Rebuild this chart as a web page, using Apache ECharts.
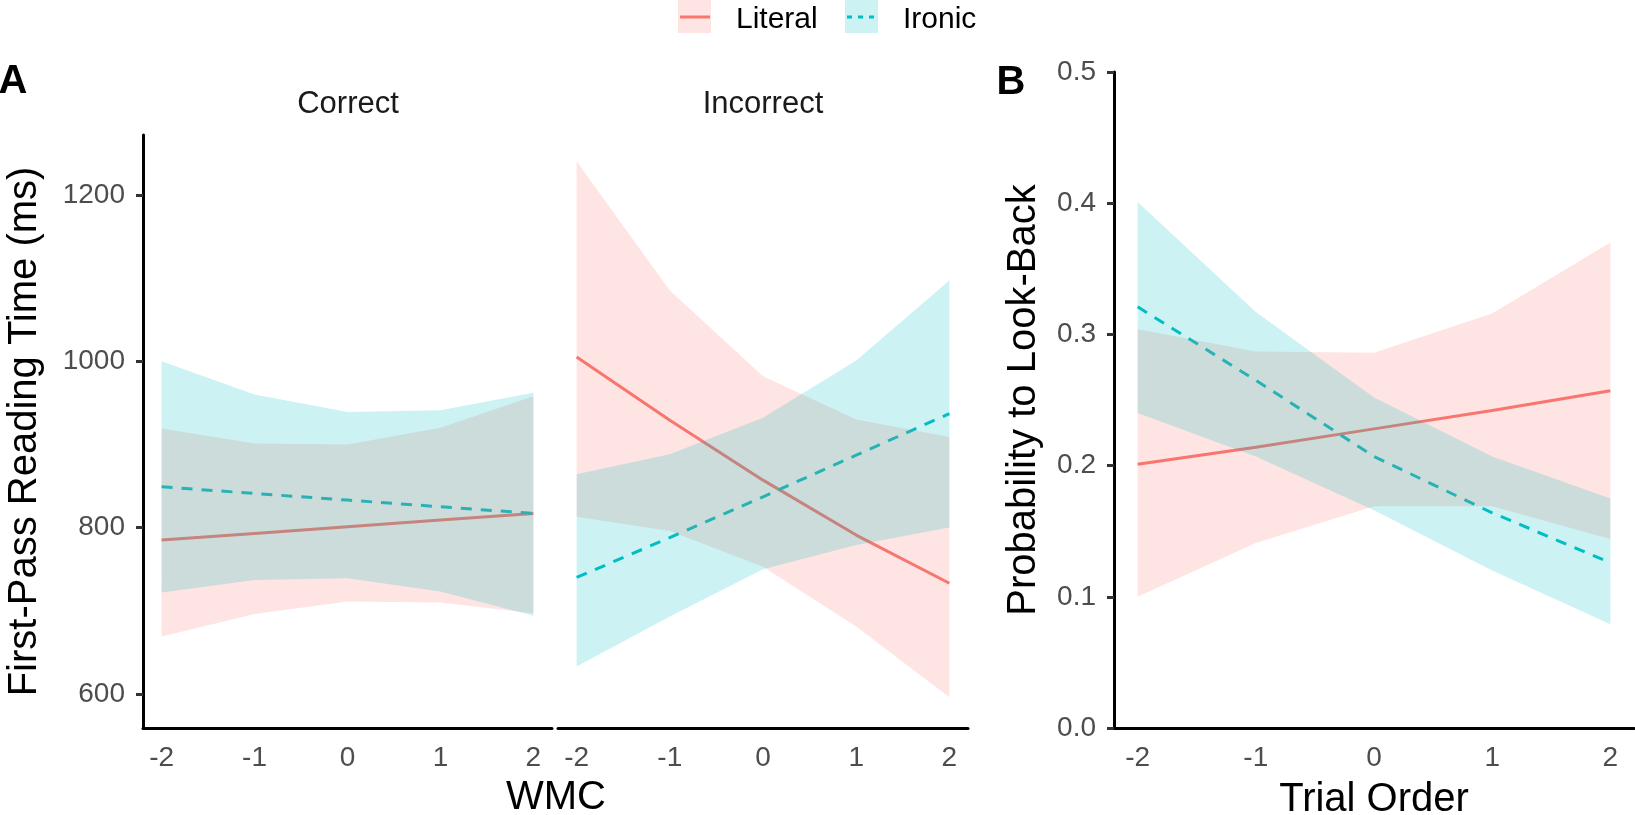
<!DOCTYPE html>
<html>
<head>
<meta charset="utf-8">
<script src="https://cdn.jsdelivr.net/npm/echarts@6/dist/echarts.min.js"></script>
<style>
  html, body { margin: 0; padding: 0; background: #fff; }
  #chart { width: 1635px; height: 815px; }
</style>
</head>
<body>
<div id="chart"></div>
<script>
// x positions (centred predictors)
var xs = [-2, -1, 0, 1, 2];
var xTicks = [-2, -1, 0, 1, 2];
var rtTicks = [600, 800, 1000, 1200];

// Panel A, Correct
var corLitFit = [785, 793, 801, 809, 817];
var corLitLo  = [669, 696, 711, 710, 697];
var corLitHi  = [919, 901, 900, 920, 958];
var corIroFit = [849, 841, 833, 825, 817];
var corIroLo  = [722, 737, 739, 723, 694];
var corIroHi  = [1000, 960, 939, 941, 962];

// Panel A, Incorrect
var incLitFit = [1005, 929, 857, 791, 733];
var incLitLo  = [813, 796, 753, 681, 596];
var incLitHi  = [1240, 1085, 982, 930, 909];
var incIroFit = [740, 788, 837, 887, 937];
var incIroLo  = [633, 693, 750, 779, 800];
var incIroHi  = [864, 888, 932, 1001, 1097];

// Panel B, look-back probability by trial order
var triLitFit = [0.201, 0.214, 0.228, 0.242, 0.257];
var triLitLo  = [0.100, 0.141, 0.169, 0.169, 0.144];
var triLitHi  = [0.304, 0.287, 0.286, 0.316, 0.370];
var triIroFit = [0.321, 0.265, 0.207, 0.164, 0.126];
var triIroLo  = [0.240, 0.207, 0.166, 0.120, 0.079];
var triIroHi  = [0.401, 0.317, 0.252, 0.207, 0.175];

var RED = '#F8766D', CYAN = '#00BFC4';
var FONT = 'Liberation Sans, Arial, sans-serif';
var DASH = [11, 9];

function pairs(vals) {
  return xs.map(function (x, i) { return [x, vals[i]]; });
}

function fitLine(name, idx, vals, color, dashed) {
  return {
    name: name, type: 'line', xAxisIndex: idx, yAxisIndex: idx,
    data: pairs(vals), color: color, symbol: 'none', showSymbol: false,
    lineStyle: { color: color, width: 3, type: dashed ? DASH : 'solid' },
    silent: true, z: 2
  };
}

// confidence ribbon: one polygon, upper edge then lower edge back
function band(name, idx, lo, hi, color, z) {
  return {
    name: name + ' ci', type: 'custom', xAxisIndex: idx, yAxisIndex: idx,
    data: xs.map(function (x, i) { return [x, lo[i], hi[i]]; }),
    encode: { x: 0, y: [1, 2] },
    silent: true, z: z,
    renderItem: function (params, api) {
      if (params.dataIndex !== 0) return null;
      var pts = [];
      for (var i = 0; i < xs.length; i++) pts.push(api.coord([xs[i], hi[i]]));
      for (var j = xs.length - 1; j >= 0; j--) pts.push(api.coord([xs[j], lo[j]]));
      return { type: 'polygon', shape: { points: pts }, style: { fill: color } };
    }
  };
}

function xAxisFor(idx, name) {
  return {
    type: 'value', gridIndex: idx, min: -2.2, max: 2.2,
    axisLine: { show: true, onZero: false, lineStyle: { color: '#000', width: 3 } },
    axisTick: { show: false },
    splitLine: { show: false },
    axisLabel: { customValues: xTicks, color: '#4D4D4D', fontSize: 28, fontFamily: FONT, margin: 16 },
    name: name || '', nameLocation: 'middle', nameGap: 52,
    nameTextStyle: { color: '#000', fontSize: 40, fontFamily: FONT }
  };
}

var pinkFill = 'rgba(248,118,109,0.2)';
var cyanFill = 'rgba(0,191,196,0.2)';

var series = [
  fitLine('Literal', 0, corLitFit, RED, false),
  fitLine('Ironic', 0, corIroFit, CYAN, true),
  fitLine('Literal', 1, incLitFit, RED, false),
  fitLine('Ironic', 1, incIroFit, CYAN, true),
  fitLine('Literal', 2, triLitFit, RED, false),
  fitLine('Ironic', 2, triIroFit, CYAN, true),
  band('Literal', 0, corLitLo, corLitHi, pinkFill, 3),
  band('Ironic', 0, corIroLo, corIroHi, cyanFill, 4),
  band('Literal', 1, incLitLo, incLitHi, pinkFill, 3),
  band('Ironic', 1, incIroLo, incIroHi, cyanFill, 4),
  band('Literal', 2, triLitLo, triLitHi, pinkFill, 3),
  band('Ironic', 2, triIroLo, triIroHi, cyanFill, 4)
];

var chart = echarts.init(document.getElementById('chart'));
var option = {
  animation: false,
  backgroundColor: '#fff',
  textStyle: { fontFamily: FONT },
  grid: [
    { left: 143, top: 135, width: 409, height: 593, outerBoundsMode: 'none', containLabel: false },
    { left: 558, top: 135, width: 410, height: 593, outerBoundsMode: 'none', containLabel: false },
    { left: 1114, top: 72, width: 520, height: 656, outerBoundsMode: 'none', containLabel: false }
  ],
  xAxis: [xAxisFor(0), xAxisFor(1), xAxisFor(2, 'Trial Order')],
  yAxis: [{
    type: 'value', gridIndex: 0, min: 559, max: 1272,
    axisLine: { show: true, onZero: false, lineStyle: { color: '#000', width: 3 } },
    axisTick: { show: true, customValues: rtTicks, length: 7, lineStyle: { color: '#333', width: 3 } },
    splitLine: { show: false },
    axisLabel: {
      customValues: rtTicks, color: '#4D4D4D', fontSize: 28, fontFamily: FONT, margin: 18,
      formatter: function (v) { return String(v); }
    },
    name: 'First-Pass Reading Time (ms)', nameLocation: 'middle', nameGap: 98,
    nameTextStyle: { color: '#000', fontSize: 40, fontFamily: FONT }
  }, {
    type: 'value', gridIndex: 1, min: 559, max: 1272, show: false
  }, {
    type: 'value', gridIndex: 2, min: 0, max: 0.5, interval: 0.1,
    axisLine: { show: true, onZero: false, lineStyle: { color: '#000', width: 3 } },
    axisTick: { show: true, length: 7, lineStyle: { color: '#333', width: 3 } },
    splitLine: { show: false },
    axisLabel: {
      color: '#4D4D4D', fontSize: 28, fontFamily: FONT, margin: 18,
      formatter: function (v) { return v.toFixed(1); }
    },
    name: 'Probability to Look-Back', nameLocation: 'middle', nameGap: 70,
    nameTextStyle: { color: '#000', fontSize: 40, fontFamily: FONT }
  }],
  legend: [{
    data: ['Literal'], left: 678, top: 0, itemWidth: 33, itemHeight: 33,
    itemStyle: { opacity: 0 }, lineStyle: { opacity: 0 },
    textStyle: { fontSize: 30, color: '#000', fontFamily: FONT, padding: [0, 0, 0, 14] },
    selectedMode: false, z: 5
  }, {
    data: ['Ironic'], left: 845, top: 0, itemWidth: 33, itemHeight: 33,
    itemStyle: { opacity: 0 }, lineStyle: { opacity: 0 },
    textStyle: { fontSize: 30, color: '#000', fontFamily: FONT, padding: [0, 0, 0, 14] },
    selectedMode: false, z: 5
  }],
  graphic: [
    // legend keys: ribbon swatch with the line drawn across it
    { type: 'rect', z: 1, shape: { x: 678, y: 0, width: 33, height: 33 }, style: { fill: pinkFill } },
    { type: 'rect', z: 1, shape: { x: 845, y: 0, width: 33, height: 33 }, style: { fill: cyanFill } },
    { type: 'line', z: 2, shape: { x1: 680, y1: 17, x2: 710, y2: 17 }, style: { stroke: RED, lineWidth: 3 } },
    { type: 'line', z: 2, shape: { x1: 847, y1: 17, x2: 877, y2: 17 }, style: { stroke: CYAN, lineWidth: 3, lineDash: [5, 6] } },
    { type: 'text', x: 13, y: 82, style: { text: 'A', fontSize: 40, fontWeight: 'bold', fontFamily: FONT, fill: '#000', textAlign: 'center', textVerticalAlign: 'middle' } },
    { type: 'text', x: 1011, y: 83, style: { text: 'B', fontSize: 40, fontWeight: 'bold', fontFamily: FONT, fill: '#000', textAlign: 'center', textVerticalAlign: 'middle' } },
    { type: 'text', x: 348, y: 104, style: { text: 'Correct', fontSize: 31, fontFamily: FONT, fill: '#1A1A1A', textAlign: 'center', textVerticalAlign: 'middle' } },
    { type: 'text', x: 763, y: 104, style: { text: 'Incorrect', fontSize: 31, fontFamily: FONT, fill: '#1A1A1A', textAlign: 'center', textVerticalAlign: 'middle' } },
    { type: 'text', x: 556, y: 798, style: { text: 'WMC', fontSize: 40, fontFamily: FONT, fill: '#000', textAlign: 'center', textVerticalAlign: 'middle' } }
  ],
  series: series
};
chart.setOption(option);
</script>
</body>
</html>
